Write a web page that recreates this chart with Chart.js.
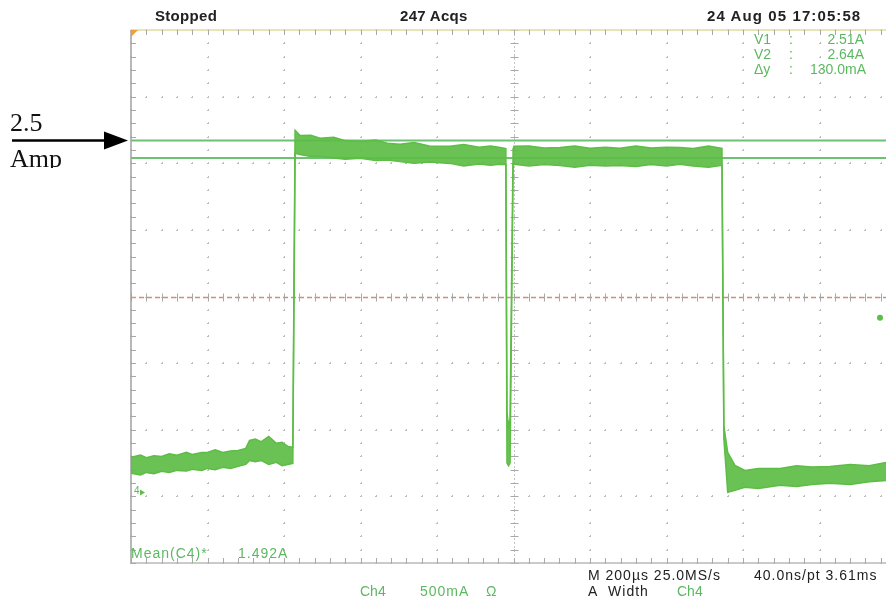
<!DOCTYPE html>
<html>
<head>
<meta charset="utf-8">
<script src="https://cdn.jsdelivr.net/npm/chart.js@4.4.1/dist/chart.umd.min.js"></script>
<style>
  body { margin: 0; overflow: hidden; background: #fff; width: 886px; height: 598px; position: relative; }
  #wrap { position: absolute; left: 0; top: 0; width: 900px; height: 598px; }
  .t { position: absolute; font-family: "Liberation Sans", Arial, sans-serif; font-size: 14px; color: #222; white-space: nowrap; line-height: 14px; }
  .b { font-weight: bold; font-size: 15px; letter-spacing: 0.3px; }
  .w { letter-spacing: 1px; }
  .g { color: #5cb860; }
  .serif { font-family: "Liberation Serif", "Times New Roman", serif; font-size: 26px; line-height: 26px; color: #111; letter-spacing: 0; }
</style>
</head>
<body>
<div id="wrap"><canvas id="scope" width="900" height="598"></canvas></div>

<div class="t b" style="left:155px;top:9px;">Stopped</div>
<div class="t b" style="left:400px;top:9px;">247 Acqs</div>
<div class="t b" style="left:707px;top:9px;letter-spacing:1.1px;">24 Aug 05 17:05:58</div>

<div class="t g" style="left:754px;top:32px;">V1</div>
<div class="t g" style="left:789px;top:32px;">:</div>
<div class="t g" style="right:22px;top:32px;">2.51A</div>
<div class="t g" style="left:754px;top:47px;">V2</div>
<div class="t g" style="left:789px;top:47px;">:</div>
<div class="t g" style="right:22px;top:47px;">2.64A</div>
<div class="t g" style="left:754px;top:62px;">&Delta;y</div>
<div class="t g" style="left:789px;top:62px;">:</div>
<div class="t g" style="right:20px;top:62px;">130.0mA</div>

<div class="t serif" style="left:10px;top:110px;">2.5</div>
<div style="position:absolute;left:10px;top:146px;height:22px;overflow:hidden;">
  <div class="t serif" style="position:static;">Amp</div>
</div>

<div class="t g w" style="left:131px;top:546px;">Mean(C4)*</div>
<div class="t g w" style="left:238px;top:546px;">1.492A</div>
<div class="t g" style="left:134px;top:484px;font-size:10px;">4</div>

<div class="t g" style="left:360px;top:584px;">Ch4</div>
<div class="t g w" style="left:420px;top:584px;">500mA</div>
<div class="t g" style="left:486px;top:584px;">&Omega;</div>

<div class="t w" style="left:588px;top:568px;">M 200&micro;s 25.0MS/s</div>
<div class="t w" style="left:754px;top:568px;">40.0ns/pt 3.61ms</div>
<div class="t w" style="left:588px;top:584px;">A&nbsp;&nbsp;Width</div>
<div class="t g" style="left:677px;top:584px;">Ch4</div>

<script>
// time axis in microseconds (200 us/div, 10 div), current in amps (500 mA/div, 8 div)
const xMin = 0, xMax = 2000, xDiv = 200;
const yMin = -0.53, yMax = 3.47, yDiv = 0.5;

const cursorV1 = 2.51;
const cursorV2 = 2.64;
const triggerLevel = 1.31;

// Ch4 trace: time points with upper / lower edge of the noise band
const timeUs = [0, 25, 40, 60, 80, 100, 120, 145, 160, 185, 200, 220, 240, 260, 280, 300, 310, 325, 340, 360, 380, 395, 410, 423,
                429, 442, 470, 494, 530, 560, 599, 640, 670, 703, 740, 780, 834, 870, 910, 940, 965, 980,
                983, 987, 991, 999,
                1001, 1040, 1080, 1122, 1160, 1200, 1240, 1278, 1320, 1360, 1400, 1435, 1470, 1510, 1545,
                1550, 1560, 1579, 1605, 1640, 1697, 1740, 1780, 1827, 1880, 1930, 1974, 2000];
const upperA = [0.263, 0.28, 0.26, 0.275, 0.27, 0.29, 0.278, 0.30, 0.285, 0.30, 0.30, 0.32, 0.30, 0.31, 0.315, 0.33, 0.39, 0.40, 0.38, 0.42, 0.368, 0.375, 0.345, 0.338,
                2.717, 2.679, 2.68, 2.657, 2.665, 2.64, 2.634, 2.645, 2.62, 2.612, 2.625, 2.60, 2.597, 2.61, 2.59, 2.60, 2.589, 2.58,
                0.60, 0.50, 0.55, 2.58,
                2.597, 2.60, 2.585, 2.589, 2.60, 2.582, 2.59, 2.582, 2.60, 2.585, 2.59, 2.589, 2.58, 2.60, 2.582,
                0.50, 0.30, 0.203, 0.165, 0.18, 0.18, 0.20, 0.19, 0.195, 0.21, 0.20, 0.225, 0.225];
const lowerA = [0.143, 0.13, 0.15, 0.14, 0.158, 0.15, 0.165, 0.16, 0.173, 0.165, 0.18, 0.17, 0.188, 0.18, 0.195, 0.21, 0.24, 0.23, 0.24, 0.21, 0.225, 0.20, 0.21, 0.218,
                2.544, 2.535, 2.52, 2.522, 2.51, 2.50, 2.507, 2.49, 2.495, 2.484, 2.47, 2.48, 2.469, 2.45, 2.465, 2.455, 2.462, 2.46,
                0.22, 0.20, 0.22, 2.46,
                2.462, 2.45, 2.46, 2.454, 2.44, 2.455, 2.45, 2.454, 2.445, 2.46, 2.45, 2.462, 2.45, 2.44, 2.454,
                0.40, 0.00, 0.015, 0.038, 0.03, 0.053, 0.045, 0.06, 0.068, 0.06, 0.08, 0.09, 0.09];

const traceGreen = '#5dbd45';
const cursorGreen = '#6cc272';

function pts(ys) {
  return timeUs.map((t, i) => ({x: t, y: ys[i]}));
}

const scopeGrid = {
  id: 'scopeGrid',
  beforeDatasetsDraw(chart) {
    const {ctx, chartArea: a, scales: {x, y}} = chart;
    ctx.save();
    // dotted graticule
    ctx.fillStyle = '#bdbdbd';
    for (let i = 0; i <= 10; i++) {
      const px = Math.round(x.getPixelForValue(xMin + i * xDiv));
      for (let j = 0; j <= 40; j++) {
        const py = Math.round(y.getPixelForValue(yMin + j * yDiv / 5));
        ctx.fillRect(px - 1, py, 2, 1);
        ctx.fillRect(px, py - 1, 1, 2);
      }
    }
    for (let j = 0; j <= 8; j++) {
      const py = Math.round(y.getPixelForValue(yMin + j * yDiv));
      for (let i = 0; i <= 50; i++) {
        const px = Math.round(x.getPixelForValue(xMin + i * xDiv / 5));
        ctx.fillRect(px - 1, py, 2, 1);
        ctx.fillRect(px, py - 1, 1, 2);
      }
    }
    // centre vertical
    const cx = Math.round(x.getPixelForValue((xMin + xMax) / 2)) + 0.5;
    ctx.strokeStyle = '#c4c4c4';
    ctx.lineWidth = 1;
    ctx.setLineDash([2, 2]);
    ctx.beginPath(); ctx.moveTo(cx, a.top); ctx.lineTo(cx, a.bottom); ctx.stroke();
    ctx.setLineDash([]);
    ctx.strokeStyle = '#a8a8a8';
    for (let j = 0; j <= 40; j++) {
      const py = Math.round(y.getPixelForValue(yMin + j * yDiv / 5)) + 0.5;
      ctx.beginPath(); ctx.moveTo(cx - 4, py); ctx.lineTo(cx + 4, py); ctx.stroke();
    }
    // centre horizontal (reddish)
    const cy = Math.round(y.getPixelForValue(yMin + 4 * yDiv)) + 0.5;
    ctx.strokeStyle = '#c99080';
    ctx.lineWidth = 1.5;
    ctx.setLineDash([5, 3]);
    ctx.beginPath(); ctx.moveTo(a.left, cy); ctx.lineTo(a.right, cy); ctx.stroke();
    ctx.setLineDash([]);
    ctx.lineWidth = 1;
    ctx.strokeStyle = '#a8a8a8';
    for (let i = 0; i <= 50; i++) {
      const px = Math.round(x.getPixelForValue(xMin + i * xDiv / 5)) + 0.5;
      ctx.beginPath(); ctx.moveTo(px, cy - 4); ctx.lineTo(px, cy + 4); ctx.stroke();
    }
    // frame
    ctx.strokeStyle = '#a0a0a0';
    ctx.lineWidth = 1.5;
    ctx.beginPath(); ctx.moveTo(a.left, a.top); ctx.lineTo(a.left, a.bottom); ctx.stroke();
    ctx.strokeStyle = '#b8b8b8';
    ctx.beginPath(); ctx.moveTo(a.left, a.bottom); ctx.lineTo(a.right, a.bottom); ctx.stroke();
    ctx.strokeStyle = '#dcdca0';
    ctx.beginPath(); ctx.moveTo(a.left, a.top); ctx.lineTo(a.right, a.top); ctx.stroke();
    ctx.lineWidth = 1;
    ctx.strokeStyle = '#a8a8a8';
    for (let i = 0; i <= 50; i++) {
      const px = Math.round(x.getPixelForValue(xMin + i * xDiv / 5)) + 0.5;
      ctx.beginPath(); ctx.moveTo(px, a.top); ctx.lineTo(px, a.top + 5); ctx.stroke();
      ctx.beginPath(); ctx.moveTo(px, a.bottom); ctx.lineTo(px, a.bottom - 5); ctx.stroke();
    }
    for (let j = 0; j <= 40; j++) {
      const py = Math.round(y.getPixelForValue(yMin + j * yDiv / 5)) + 0.5;
      ctx.beginPath(); ctx.moveTo(a.left, py); ctx.lineTo(a.left + 5, py); ctx.stroke();
    }
    ctx.restore();
  },
  afterDraw(chart) {
    const {ctx, chartArea: a, scales: {x, y}} = chart;
    ctx.save();
    // trigger position marker
    ctx.fillStyle = '#f0a030';
    ctx.beginPath(); ctx.moveTo(a.left, a.top); ctx.lineTo(a.left + 7, a.top); ctx.lineTo(a.left, a.top + 7); ctx.fill();
    // trigger level marker
    const ty = y.getPixelForValue(triggerLevel);
    ctx.fillStyle = traceGreen;
    ctx.beginPath(); ctx.arc(880, ty, 3, 0, Math.PI * 2); ctx.fill();
    // ground marker
    const gy = y.getPixelForValue(0);
    ctx.beginPath(); ctx.moveTo(a.left + 9, gy - 3); ctx.lineTo(a.left + 14, gy); ctx.lineTo(a.left + 9, gy + 3); ctx.fill();
    // annotation arrow pointing at the 2.5 A cursor
    const ay = y.getPixelForValue(cursorV2);
    ctx.strokeStyle = '#000';
    ctx.fillStyle = '#000';
    ctx.lineWidth = 2.5;
    ctx.beginPath(); ctx.moveTo(12, ay); ctx.lineTo(110, ay); ctx.stroke();
    ctx.beginPath(); ctx.moveTo(104, ay - 9); ctx.lineTo(a.left - 3, ay); ctx.lineTo(104, ay + 9); ctx.closePath(); ctx.fill();
    ctx.restore();
  }
};

new Chart(document.getElementById('scope'), {
  type: 'line',
  data: {
    datasets: [
      {
        data: pts(upperA),
        borderColor: traceGreen,
        borderWidth: 1.5,
        pointRadius: 0,
        fill: false,
        tension: 0
      },
      {
        data: pts(lowerA),
        borderColor: traceGreen,
        borderWidth: 1.5,
        backgroundColor: 'rgba(93,189,69,0.92)',
        pointRadius: 0,
        fill: '-1',
        tension: 0
      },
      {
        data: [{x: xMin, y: cursorV2}, {x: xMax, y: cursorV2}],
        borderColor: cursorGreen,
        borderWidth: 2,
        pointRadius: 0,
        fill: false
      },
      {
        data: [{x: xMin, y: cursorV1}, {x: xMax, y: cursorV1}],
        borderColor: cursorGreen,
        borderWidth: 2,
        pointRadius: 0,
        fill: false
      }
    ]
  },
  options: {
    responsive: false,
    animation: false,
    layout: { padding: { left: 131, top: 30, right: 4, bottom: 35 } },
    scales: {
      x: { type: 'linear', min: xMin, max: xMax, display: false },
      y: { min: yMin, max: yMax, display: false }
    },
    plugins: {
      legend: { display: false },
      tooltip: { enabled: false }
    }
  },
  plugins: [scopeGrid]
});
</script>
</body>
</html>
